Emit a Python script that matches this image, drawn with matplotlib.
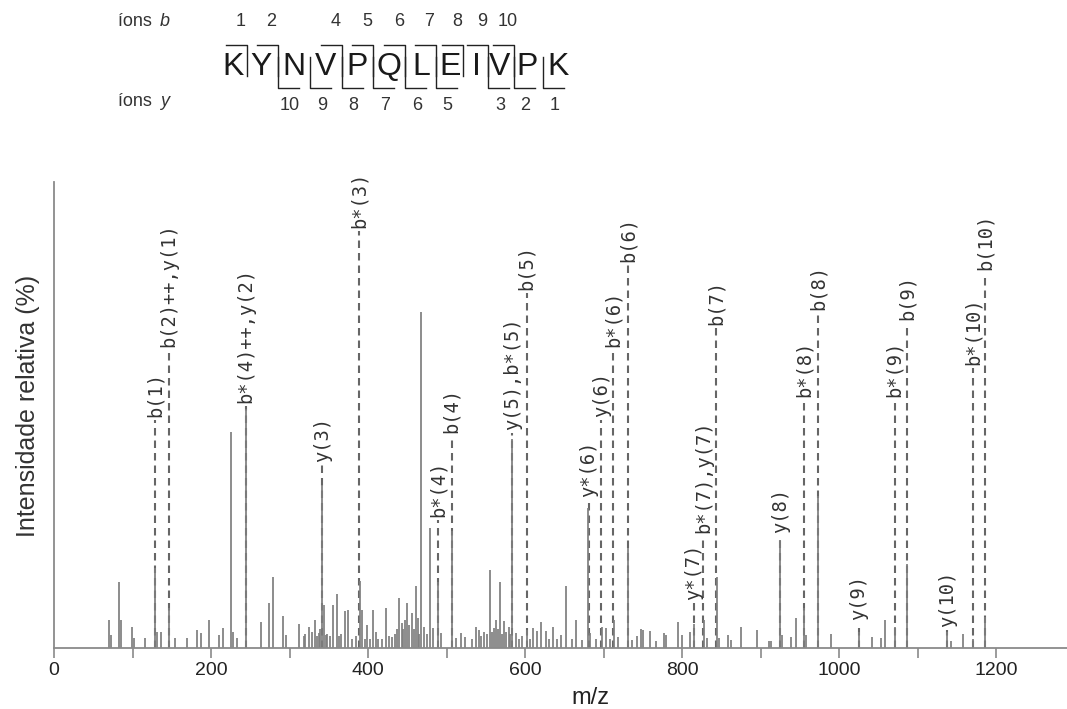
import matplotlib
matplotlib.use("Agg")
import matplotlib.pyplot as plt
from matplotlib.lines import Line2D

# ---------------- data ----------------
peak_mz = [69.8, 72, 82.6, 84.7, 99.6, 101.7, 115.7, 128.4, 130.6, 135.7, 146.3, 153.9,
           168.8, 181.5, 186.6, 197.2, 210, 215, 225.2, 227.8, 233.3, 244, 263, 273.6,
           279.2, 291.5, 295, 311.9, 318, 320, 324.6, 328, 332.2, 335, 337.3, 339,
           341.6, 343.7, 345.9, 348, 351, 355.6, 360.7, 363, 366, 370, 374.8, 380,
           385, 389.2, 392.6, 396, 399, 403, 406.6, 409.6, 413, 418, 422.3, 426,
           430.8, 434, 437, 439.2, 442.7, 445, 447, 449.9, 452, 455.4, 458, 460.5,
           463, 465, 467.8, 471.1, 475, 478.3, 483, 488.9, 492.4, 506.4, 511.5, 517.8,
           523, 532, 537, 541.2, 544, 547.5, 551, 554.8, 558, 560.3, 563.3, 565,
           567.5, 570, 573, 576, 579.4, 581, 583.7, 587.9, 592, 596, 602.8, 606,
           610.4, 615.5, 619.7, 626, 630, 636, 641, 645.2, 652.5, 660, 664.3, 672.9,
           680, 682.5, 690, 697.5, 703.4, 708, 713.1, 718.2, 731, 736.6, 742, 747.1,
           750.6, 759, 766.2, 776.8, 779.9, 795.2, 800.3, 810, 815, 827.8, 831.2, 843.9,
           846.9, 858.8, 861.8, 874.5, 894.9, 910.6, 912.7, 924.6, 927.6, 938.2, 945.5, 955.2,
           958.2, 973.5, 989.2, 1025.2, 1042.3, 1052.9, 1058.4, 1071.1, 1086, 1137, 1142.3, 1157.7,
           1170.4, 1185.4]
peak_int = [6.0, 2.8, 14.1, 6.0, 4.6, 2.1, 2.1, 17.2, 3.4, 3.4, 8.6, 2.1,
            2.1, 3.9, 3.2, 6.0, 2.8, 4.3, 46.4, 3.4, 2.1, 51.3, 5.6, 9.7,
            15.3, 6.9, 2.8, 5.2, 2.5, 3.0, 4.6, 3.5, 6.0, 2.5, 3.2, 4.0,
            35.0, 9.2, 2.8, 3.0, 2.5, 9.2, 11.6, 2.5, 3.0, 8.0, 8.2, 2.0,
            2.5, 14.4, 8.2, 2.0, 4.9, 2.0, 8.2, 3.4, 2.0, 2.0, 8.6, 2.5,
            2.4, 3.0, 4.0, 10.7, 5.4, 4.0, 6.0, 9.7, 5.0, 7.5, 4.0, 13.3,
            6.5, 3.0, 72.2, 4.6, 3.0, 25.7, 4.3, 14.1, 3.2, 25.2, 2.1, 3.2,
            2.4, 2.0, 4.6, 3.9, 2.5, 3.4, 3.0, 16.7, 3.5, 4.3, 6.0, 4.0,
            14.2, 3.0, 5.8, 3.5, 4.6, 3.0, 44.8, 3.2, 2.0, 2.5, 3.9, 2.0,
            4.3, 3.6, 5.6, 3.6, 2.0, 4.5, 2.0, 2.8, 13.4, 2.0, 6.0, 1.7,
            30.0, 3.2, 2.0, 4.6, 4.3, 2.0, 6.0, 2.4, 21.4, 1.7, 2.6, 4.1,
            3.9, 3.7, 1.5, 3.3, 2.8, 5.6, 2.8, 3.5, 5.2, 6.0, 2.1, 15.3,
            2.1, 2.8, 1.7, 4.6, 3.9, 1.5, 1.5, 23.2, 2.8, 2.4, 6.4, 8.5,
            2.8, 32.6, 3.0, 3.4, 2.4, 2.1, 6.0, 4.6, 18.0, 3.4, 1.5, 2.9,
            1.9, 6.7]

ann_mz = [128.4, 146.3, 244, 341.6, 388.3, 488.9, 506.4, 583.6, 601.9, 681, 697, 712,
          731, 815, 827, 843, 925, 955.2, 973.5, 1024.5, 1070.5, 1086, 1137.5, 1170.4,
          1185.5]
ann_label = ["b(1)", "b(2)++,y(1)", "b*(4)++,y(2)", "y(3)", "b*(3)", "b*(4)", "b(4)",
             "y(5),b*(5)", "b(5)", "y*(6)", "y(6)", "b*(6)", "b(6)", "y*(7)", "b*(7),y(7)",
             "b(7)", "y(8)", "b*(8)", "b(8)", "y(9)", "b*(9)", "b(9)", "y(10)", "b*(10)",
             "b(10)"]
ann_level = [49.6, 64.6, 52.6, 39.9, 90.1, 28.1, 46.1, 46.8, 76.8, 32.4, 49.6, 64.6,
             82.8, 10.3, 24.7, 69.3, 24.7, 53.9, 72.5, 6.0, 53.9, 70.4, 4.5, 60.7, 81.1]

sequence = list("KYNVPQLEIVPK")
b_ions = [1, 2, 4, 5, 6, 7, 8, 9, 10]
y_ions = [10, 9, 8, 7, 6, 5, 3, 2, 1]
xticks_major = [0, 200, 400, 600, 800, 1000, 1200]
xticks_minor = [100, 300, 500, 700, 900, 1100]

# ---------------- layout ----------------
W, H = 1067, 709
plt.rcParams['font.family'] = ['Liberation Sans', 'DejaVu Sans']
fig = plt.figure(figsize=(W / 100, H / 100), dpi=100)
fig.patch.set_facecolor('white')

ax = fig.add_axes([54 / W, 61 / H, (W - 54) / W, (648 - 182) / H])
ax.set_xlim(0, 1290)
ax.set_ylim(0, 100)
for s in ['top', 'right']:
    ax.spines[s].set_visible(False)
for s in ['left', 'bottom']:
    ax.spines[s].set_color('#8a8a8a')
    ax.spines[s].set_linewidth(1.3)
ax.set_yticks([])
ax.set_xticks(xticks_major)
ax.set_xticklabels([str(t) for t in xticks_major])
ax.set_xticks(xticks_minor, minor=True)
ax.tick_params(axis='x', which='both', direction='out', length=7, width=1.2,
               color='#8a8a8a', labelsize=14, labelcolor='#222222', pad=3)

# dashed annotation lines
for mz, lev in zip(ann_mz, ann_level):
    ax.vlines(mz, 0, lev - 0.7, colors='#666666', linestyles=(0, (3.6, 2.4)), lw=1.5)
# peaks
ax.vlines(peak_mz, 0, peak_int, colors='#7e7e7e', lw=1.25)
# labels
for mz, lev, lab in zip(ann_mz, ann_level, ann_label):
    ax.text(mz, lev, lab, rotation=90, ha='center', va='bottom',
            fontfamily='DejaVu Sans Mono', fontsize=13.5, color='#333333', clip_on=False)

fig.text(28 / W, 1 - 406 / H, "Intensidade relativa (%)", rotation=90, ha='center',
         va='center', fontsize=18, color='#333333')
fig.text(590 / W, 1 - 698 / H, "m/z", ha='center', va='center', fontsize=17, color='#222222')

# ---------------- peptide header (pixel overlay) ----------------
ov = fig.add_axes([0, 0, 1, 1], facecolor='none')
ov.set_xlim(0, W)
ov.set_ylim(H, 0)
ov.axis('off')

letter_x = [233, 261, 294, 326, 357, 389, 421, 450, 476, 500, 527, 558]
bounds = [(letter_x[i] + letter_x[i + 1]) / 2 for i in range(len(letter_x) - 1)]

for x, ch in zip(letter_x, sequence):
    ov.text(x, 67, ch, ha='center', va='center', fontsize=23, color='#1a1a1a')

ov.text(118, 22, "íons ", ha='left', va='center', fontsize=13, color='#333333')
ov.text(160, 22, "b", ha='left', va='center', fontsize=13, style='italic', color='#333333')
ov.text(118, 102, "íons ", ha='left', va='center', fontsize=13, color='#333333')
ov.text(160, 102, "y", ha='left', va='center', fontsize=13, style='italic', color='#333333')

n = len(sequence)
for k in b_ions:
    bx = bounds[k - 1]
    ov.add_line(Line2D([bx - 21, bx, bx], [45, 45, 76], color='#222222', lw=1.0))
    ov.text(bx - 6, 22, str(k), ha='center', va='center', fontsize=13, color='#333333')
for k in y_ions:
    bx = bounds[n - k - 1]
    ov.add_line(Line2D([bx, bx, bx + 21], [57, 88, 88], color='#222222', lw=1.0))
    ov.text(bx + 12, 106, str(k), ha='center', va='center', fontsize=13, color='#333333')

fig.savefig("out.png", dpi=100, facecolor='white')
